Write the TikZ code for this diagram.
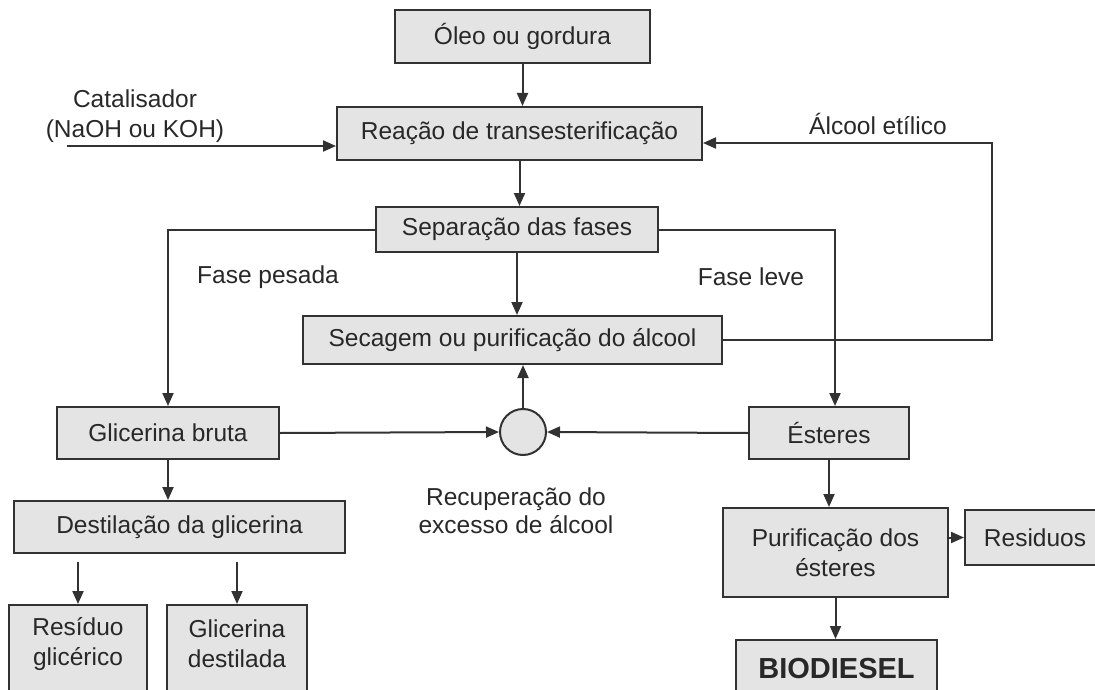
\documentclass[tikz,border=0pt]{standalone}
\usepackage{fontspec}
\setmainfont{Liberation Sans}
\usetikzlibrary{arrows.meta}
\usetikzlibrary{positioning,calc,shapes}
\definecolor{boxgray}{RGB}{228,228,228}
\definecolor{linegray}{RGB}{50,50,50}
\definecolor{textgray}{RGB}{40,40,40}

\begin{document}
\begin{tikzpicture}[x=1pt,y=-1pt]
\tikzset{
    process/.style={
        draw=linegray,
        fill=boxgray,
        line width=2pt,
        rectangle,
        inner sep=0pt,
        align=center,
        text=textgray,
        font=\fontsize{24.5}{30}\selectfont
    },
    box size/.style 2 args={
        minimum width=#1,
        minimum height=#2
    },
    caption/.style={
        align=center,
        text=textgray,
        font=\fontsize{24.5}{30}\selectfont
    },
    flow/.style={
        draw=linegray,
        line width=2pt,
        -{Triangle[length=13pt,width=11pt]}
    },
    recovery/.style={
        draw=linegray,
        fill=boxgray,
        line width=2pt,
        circle,
        minimum size=46pt,
        inner sep=0pt
    },
}
\useasboundingbox (0,0) rectangle (1095,690);

% main column
\node[process, box size={255pt}{53pt}] (oleo) at (522.5,36.5) {Óleo ou gordura};
\node[process, box size={365pt}{53pt}] (reacao) at (519.5,133.5) {Reação de transesterificação};
\node[process, box size={282pt}{45pt}] (separacao) at (517,229.5) {Separação das fases};
\node[process, box size={419pt}{48pt}] (secagem) at (512.5,340) {Secagem ou purificação do álcool};
\node[recovery] (recup) at (523,432) {};

% heavy phase
\node[process, box size={222pt}{52pt}] (glicbruta) at (168,433) {Glicerina bruta};
\node[process, box size={331pt}{52pt}] (destilacao) at (179.5,527) {Destilação da glicerina};
\node[process, box size={138pt}{115pt},
      label={[caption, anchor=center, yshift=-40pt]north:{Resíduo\\glicérico}}] (residuo) at (78,662.5) {};
\node[process, box size={140pt}{115pt},
      label={[caption, anchor=center, yshift=-40pt]north:{Glicerina\\destilada}}] (glicdest) at (237,662.5) {};

% light phase
\node[process, box size={160pt}{52pt}] (esteres) at (829,433) {Ésteres};
\node[process, box size={225pt}{89pt}] (purificacao) at (835.5,552.5) {Purificação dos\\ésteres};
\node[process, box size={140pt}{55pt}] (residuos) at (1035,537.5) {Residuos};
\node[process, box size={201pt}{110pt},
      label={[caption, anchor=center, yshift=-30pt, font=\fontsize{29}{32}\bfseries]north:{BIODIESEL}}] (biodiesel) at (836.5,695) {};

% texts
\node[caption] (catalisador) at (135,116) {Catalisador\\(NaOH ou KOH)};
\node[caption] (alcool) at (878,124) {Álcool etílico};
\node[caption] (pesada) at (268,277) {Fase pesada};
\node[caption] (leve) at (751,277) {Fase leve};
\node[caption, font=\fontsize{24.5}{28}\selectfont] (recuptxt) at (516,511) {Recuperação do\\excesso de álcool};

\coordinate (cat-in) at (67,146);
\coordinate (alc-turn) at (992,143);

\draw[flow] (oleo.south) -- (oleo.south |- reacao.north);
\draw[flow] (cat-in) -- (cat-in -| reacao.west);
\draw[flow] (secagem.east) -| (alc-turn) -- (alc-turn -| reacao.east);
\draw[flow] (reacao.south) -- (reacao.south |- separacao.north);
\draw[flow] (separacao.west) -| (glicbruta.north);
\draw[flow] (separacao.east) -| ($(esteres.north)+(6,0)$);
\draw[flow] (separacao.south) -- (separacao.south |- secagem.north);
\draw[flow] (recup.north) -- (recup.north |- secagem.south);
\draw[flow] (glicbruta.east) -- (recup.west);
\draw[flow] (esteres.west) -- (recup.east);
\draw[flow] (glicbruta.south) -- (glicbruta.south |- destilacao.north);
\draw[flow, shorten <=8pt] (destilacao.south -| residuo.north) -- (residuo.north);
\draw[flow, shorten <=8pt] (destilacao.south -| glicdest.north) -- (glicdest.north);
\draw[flow] (esteres.south) -- (esteres.south |- purificacao.north);
\draw[flow] (purificacao.east |- residuos.west) -- (residuos.west);
\draw[flow] (purificacao.south) -- (purificacao.south |- biodiesel.north);
\end{tikzpicture}
\end{document}
